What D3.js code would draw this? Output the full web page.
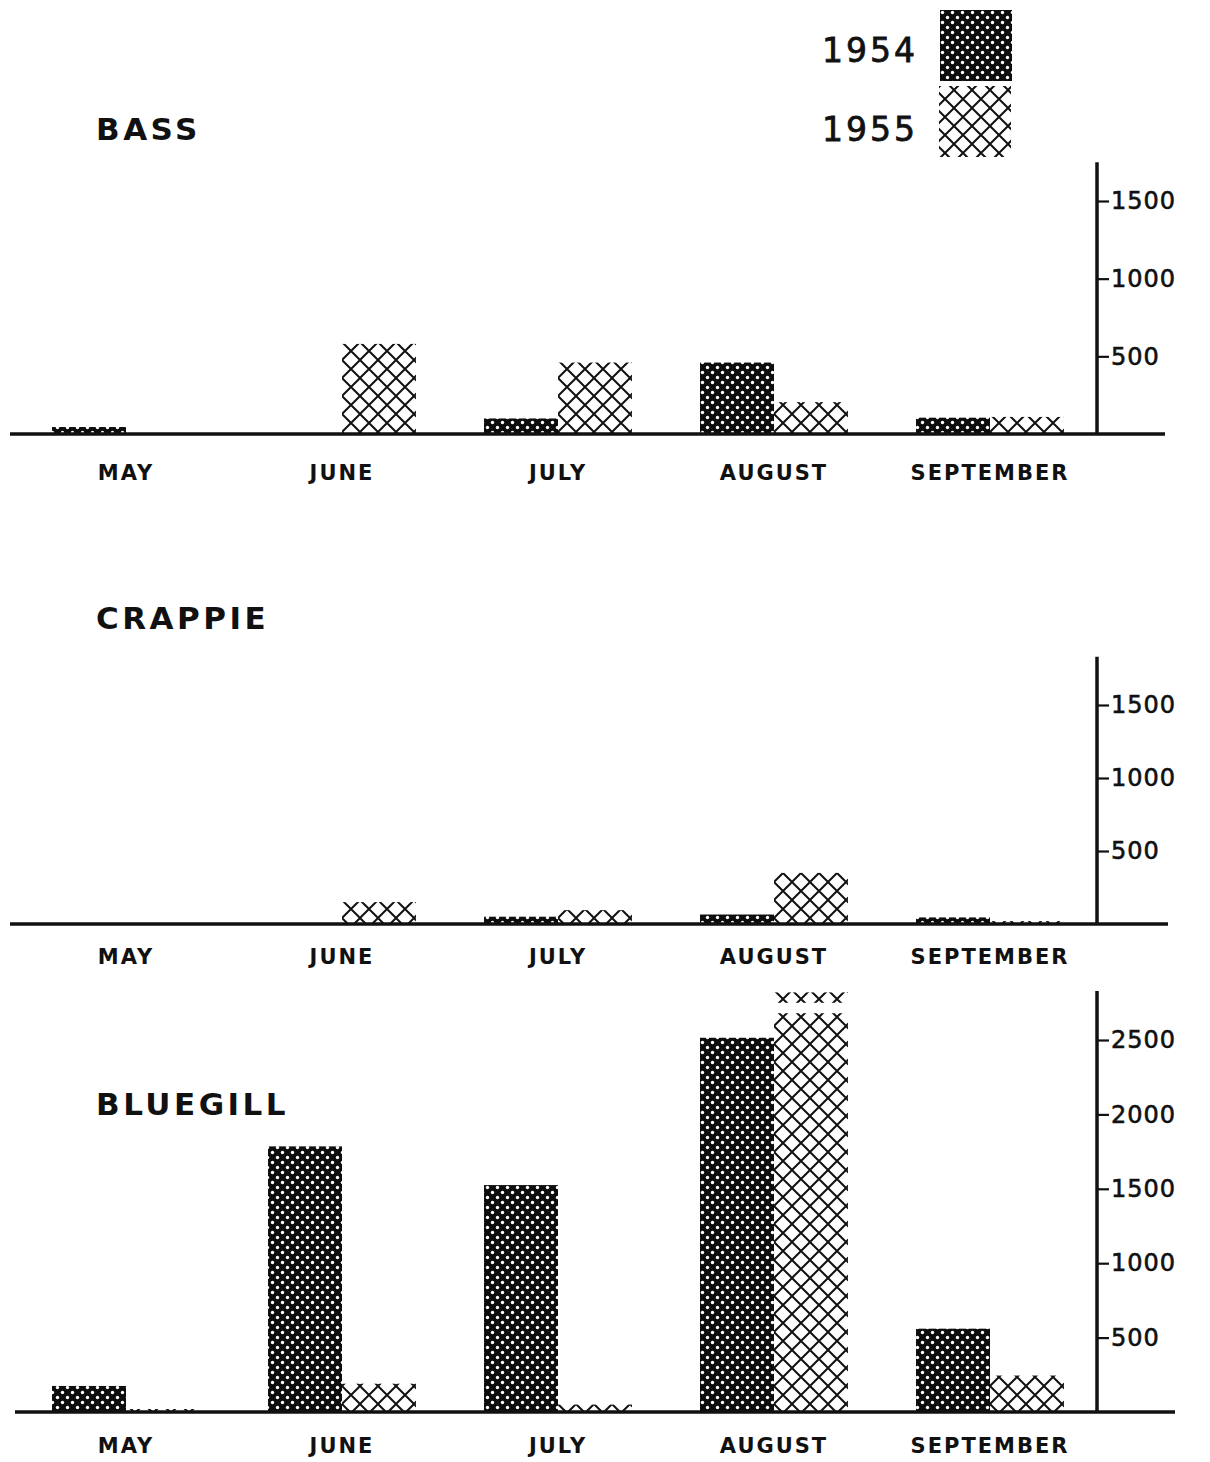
<!DOCTYPE html>
<html>
<head>
<meta charset="utf-8">
<script src="https://cdn.jsdelivr.net/npm/d3@7"></script>
<style>
  body { margin: 0; background: #fff; }
  text { font-family: 'DejaVu Sans', sans-serif; font-weight: bold; fill: #111; }
  .title { font-size: 31px; letter-spacing: 3.5px; }
  .month { font-size: 21px; letter-spacing: 2px; }
  .tick-label { font-size: 24px; font-weight: normal; letter-spacing: 1px; stroke: #111; stroke-width: 0.6px; }
  .legend-label { font-size: 33px; font-weight: normal; letter-spacing: 3px; stroke: #111; stroke-width: 0.8px; }
</style>
</head>
<body>
<div id="chart"></div>
<script>
const months = ['MAY', 'JUNE', 'JULY', 'AUGUST', 'SEPTEMBER']
const years = ['1954', '1955']

// catch per month
const bass1954 = [45, 0, 100, 460, 105]
const bass1955 = [0, 580, 460, 205, 110]
const crappie1954 = [0, 0, 50, 65, 45]
const crappie1955 = [0, 150, 95, 350, 20]
const bluegill1954 = [175, 1785, 1525, 2515, 560]
const bluegill1955 = [20, 190, 50, 2820, 245]

const bassTicks = [500, 1000, 1500]
const crappieTicks = [500, 1000, 1500]
const bluegillTicks = [500, 1000, 1500, 2000, 2500]

const w = 1210
const h = 1462

const svg = d3.select('#chart')
  .append('svg')
  .attr('width', w)
  .attr('height', h)

//PATTERNS
const defs = svg.append('defs')

const dots = defs.append('pattern')
  .attr('id', 'p1954')
  .attr('patternUnits', 'userSpaceOnUse')
  .attr('width', 10)
  .attr('height', 10)
dots.append('rect').attr('width', 10).attr('height', 10).attr('fill', '#0d0d0d')
dots.append('circle').attr('cx', 2.5).attr('cy', 2.5).attr('r', 1.7).attr('fill', '#fff')
dots.append('circle').attr('cx', 7.5).attr('cy', 7.5).attr('r', 1.7).attr('fill', '#fff')

const hatch = defs.append('pattern')
  .attr('id', 'p1955')
  .attr('patternUnits', 'userSpaceOnUse')
  .attr('width', 18)
  .attr('height', 18)
hatch.append('rect').attr('width', 18).attr('height', 18).attr('fill', '#fff')
hatch.append('path')
  .attr('d', 'M0,0L18,18M18,0L0,18M-2,16L2,20M16,-2L20,2')
  .attr('stroke', '#111')
  .attr('stroke-width', 2)

const fills = { '1954': 'url(#p1954)', '1955': 'url(#p1955)' }

//SCALES
const xScale = d3.scaleBand()
  .domain(months)
  .range([18, 1098])
  .paddingInner(0.315)
  .paddingOuter(0.1575)

const xYear = d3.scaleBand()
  .domain(years)
  .range([0, xScale.bandwidth()])

const axisX = 1097

const panels = [
  { name: 'BASS', v1954: bass1954, v1955: bass1955, ticks: bassTicks,
    top: 1500, y0: 434, yTop: 201, axisMax: 1750, lineFrom: 10, lineTo: 1165,
    titleY: 140, monthY: 480 },
  { name: 'CRAPPIE', v1954: crappie1954, v1955: crappie1955, ticks: crappieTicks,
    top: 1500, y0: 924, yTop: 705, axisMax: 1830, lineFrom: 10, lineTo: 1168,
    titleY: 629, monthY: 964 },
  { name: 'BLUEGILL', v1954: bluegill1954, v1955: bluegill1955, ticks: bluegillTicks,
    top: 2500, y0: 1412, yTop: 1040, axisMax: 2830, lineFrom: 15, lineTo: 1175,
    titleY: 1115, monthY: 1453, brk: { month: 'AUGUST', year: '1955', from: 2680, to: 2750 } }
]

panels.forEach(p => {
  const yScale = d3.scaleLinear()
    .domain([0, p.top])
    .range([p.y0, p.yTop])

  const g = svg.append('g')

  const rows = []
  months.forEach((m, i) => {
    rows.push({ month: m, year: '1954', value: p.v1954[i] })
    rows.push({ month: m, year: '1955', value: p.v1955[i] })
  })

  //BARS
  g.selectAll('rect.bar')
    .data(rows.filter(d => d.value > 0))
    .enter()
    .append('rect')
    .attr('class', 'bar')
    .attr('x', d => xScale(d.month) + xYear(d.year))
    .attr('width', xYear.bandwidth())
    .attr('y', d => yScale(d.value))
    .attr('height', d => yScale(0) - yScale(d.value))
    .attr('fill', d => fills[d.year])

  // broken bar
  if (p.brk) {
    g.append('rect')
      .attr('x', xScale(p.brk.month) + xYear(p.brk.year) - 1)
      .attr('width', xYear.bandwidth() + 2)
      .attr('y', yScale(p.brk.to))
      .attr('height', yScale(p.brk.from) - yScale(p.brk.to))
      .attr('fill', '#fff')
  }

  //BASELINE
  g.append('line')
    .attr('x1', p.lineFrom)
    .attr('x2', p.lineTo)
    .attr('y1', yScale(0))
    .attr('y2', yScale(0))
    .attr('stroke', '#111')
    .attr('stroke-width', 3.5)

  //Y AXIS
  const yaxis = d3.axisRight(yScale)
    .tickValues(p.ticks)
    .tickSize(12)
    .tickPadding(2)
    .tickFormat(d3.format('d'))

  const ag = g.append('g')
    .attr('transform', `translate(${axisX},0)`)
    .call(yaxis)
  ag.select('.domain').remove()
  ag.selectAll('.tick line').attr('stroke', '#111').attr('stroke-width', 2.2)
  ag.selectAll('.tick text')
    .attr('class', 'tick-label')
    .attr('fill', '#111')
    .attr('font-family', null)
    .attr('font-size', null)

  g.append('line')
    .attr('x1', axisX)
    .attr('x2', axisX)
    .attr('y1', yScale(0) + 1)
    .attr('y2', yScale(p.axisMax))
    .attr('stroke', '#111')
    .attr('stroke-width', 3.5)

  //MONTH LABELS
  g.selectAll('text.month')
    .data(months)
    .enter()
    .append('text')
    .attr('class', 'month')
    .attr('text-anchor', 'middle')
    .attr('x', d => xScale(d) + xScale.bandwidth() / 2)
    .attr('y', p.monthY)
    .text(d => d)

  //TITLE
  g.append('text')
    .attr('class', 'title')
    .attr('x', 96)
    .attr('y', p.titleY)
    .text(p.name)
})

//LEGEND
const legend = [
  { year: '1954', x: 940, y: 10, ty: 62 },
  { year: '1955', x: 939, y: 86, ty: 141 }
]
legend.forEach(l => {
  svg.append('rect')
    .attr('x', l.x)
    .attr('y', l.y)
    .attr('width', 72)
    .attr('height', 71)
    .attr('fill', fills[l.year])
  svg.append('text')
    .attr('class', 'legend-label')
    .attr('x', 822)
    .attr('y', l.ty)
    .text(l.year)
})
</script>
</body>
</html>
